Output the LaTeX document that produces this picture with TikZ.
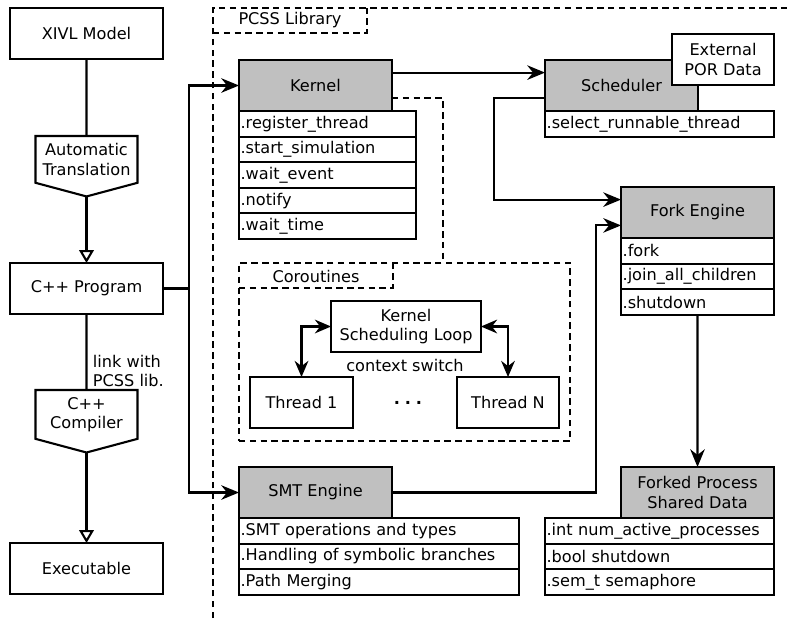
\documentclass[tikz,border=0pt]{standalone}
\usepackage{fontspec}
\setmainfont{DejaVu Sans}
\usepackage{tikz}
\usetikzlibrary{arrows.meta,shapes.symbols}
\newdimen\pxu
\pxu=0.62pt
\definecolor{hdrgray}{RGB}{192,192,192}
\tikzset{box/.style = {draw, rectangle, outer sep=0, minimum width=153\pxu, minimum height=51\pxu, align=center}}
\tikzset{hdr/.style = {box, fill=hdrgray, anchor=north west}}
\tikzset{member/.style = {draw, rectangle, outer sep=0, anchor=north west, minimum height=25.6\pxu, inner xsep=1pt, inner ysep=0, text width=#1, align=left}}
\tikzset{tool/.style = {draw, signal, signal to=south, signal from=nowhere, signal pointer angle=150, outer sep=0, minimum width=102\pxu, minimum height=60\pxu, align=center, anchor=north}}
\tikzset{arr/.style = {-{Stealth[length=11pt, width=9pt]}}}
\tikzset{biarr/.style = {{Stealth[length=10pt, width=8.5pt]}-{Stealth[length=10pt, width=8.5pt]}}}
\tikzset{openarr/.style = {-{Triangle[open, length=8pt, width=9pt]}}}
\tikzset{libline/.style = {dash pattern=on 4pt off 2.7pt}}

\begin{document}
\begin{tikzpicture}[x=\pxu, y=-\pxu, line width=1.3pt, font=\fontsize{10}{12}\selectfont]
    \useasboundingbox (0,0) rectangle (791,618);
    % left column
    \node (xivl) [box] at (86.5,33.5) {XIVL Model};
    \node (trans) [tool] at (86.5,136) {Automatic\\Translation};
    \node (cpp) [box] at (86.5,288.5) {C++ Program};
    \node (comp) [tool] at (86.5,390) {C++\\Compiler};
    \node (exe) [box] at (86.5,568.5) {Executable};
    \draw (xivl) -- (trans);
    \draw [openarr] (trans.south) -- (cpp);
    \draw (cpp) -- (comp) node [pos = 0.75, right, align=left] {link with\\PCSS lib.};
    \draw [openarr] (comp.south) -- (exe);

    % PCSS library frame
    \draw [libline] (213,618) -- (213,8) -- (791,8);
    \draw [libline] (213,33) -- (367,33) -- (367,8);
    \node (pcss) at (290,20.5) {PCSS Library};

    % kernel
    \node (kernel) [hdr] at (239,60) {Kernel};
    \node (k1) [member=107.7pt] at (kernel.south west) {.register\_thread};
    \node (k2) [member=107.7pt] at (k1.south west) {.start\_simulation};
    \node (k3) [member=107.7pt] at (k2.south west) {.wait\_event};
    \node (k4) [member=107.7pt] at (k3.south west) {.notify};
    \node (k5) [member=107.7pt] at (k4.south west) {.wait\_time};

    % scheduler
    \node (sched) [hdr] at (545,60) {Scheduler};
    \node (s1) [member=140pt] at (sched.south west) {.select\_runnable\_thread};
    \node (por) [box, fill=white, anchor=north east, minimum width=102\pxu] at (774,34) {External\\POR Data};

    % fork engine
    \node (fork) [hdr] at (621,187) {Fork Engine};
    \node (f1) [member=92.9pt] at (fork.south west) {.fork};
    \node (f2) [member=92.9pt] at (f1.south west) {.join\_all\_children};
    \node (f3) [member=92.9pt] at (f2.south west) {.shutdown};

    % smt engine
    \node (smt) [hdr] at (239,467) {SMT Engine};
    \node (m1) [member=171.6pt] at (smt.south west) {.SMT operations and types};
    \node (m2) [member=171.6pt] at (m1.south west) {.Handling of symbolic branches};
    \node (m3) [member=171.6pt] at (m2.south west) {.Path Merging};

    % shared data
    \node (shared) [hdr] at (621,467) {Forked Process\\Shared Data};
    \node (d1) [member=140pt, anchor=north east] at (shared.south east) {.int num\_active\_processes};
    \node (d2) [member=140pt] at (d1.south west) {.bool shutdown};
    \node (d3) [member=140pt] at (d2.south west) {.sem\_t semaphore};

    % coroutines
    \node (corbox) [draw, libline, rectangle, outer sep=0, anchor=north west, minimum width=331\pxu, minimum height=178\pxu] at (239,263) {};
    \draw [libline] (corbox.north west) ++(0,25) -- ++(154,0) -- ++(0,-25);
    \node (corlbl) at (316,276) {Coroutines};
    \draw [libline] ([yshift=-8pt]kernel.east) -| (443,263);
    \node (loop) [box, minimum width=150\pxu] at (406,326.5) {Kernel\\Scheduling Loop};
    \node (th1) [box, minimum width=103\pxu] at (301.5,402.5) {Thread 1};
    \node (thn) [box, minimum width=102\pxu] at (508,402.5) {Thread N};
    \node (ctx) at (405,365) {context switch};
    \node (dots) at (408,403) {\textbf{.\kern3pt.\kern3pt.}};
    \draw [biarr] (loop.west) -| (th1.north);
    \draw [biarr] (loop.east) -| (thn.north);

    % connectors
    \coordinate (split) at (189,288.5);
    \draw (cpp.east) -- (split);
    \draw [arr] (split) |- (kernel.west);
    \draw [arr] (split) |- (smt.west);
    \draw [arr] ([yshift=8pt]kernel.east) -- ([yshift=8pt]sched.west);
    \draw [arr] ([yshift=-8pt]sched.west) -- ++(-51,0) |- ([yshift=8pt]fork.west);
    \draw [arr] (smt.east) -- ++(204,0) |- ([yshift=-8pt]fork.west);
    \draw [arr] (f3.south) -- (shared.north);
\end{tikzpicture}
\end{document}
